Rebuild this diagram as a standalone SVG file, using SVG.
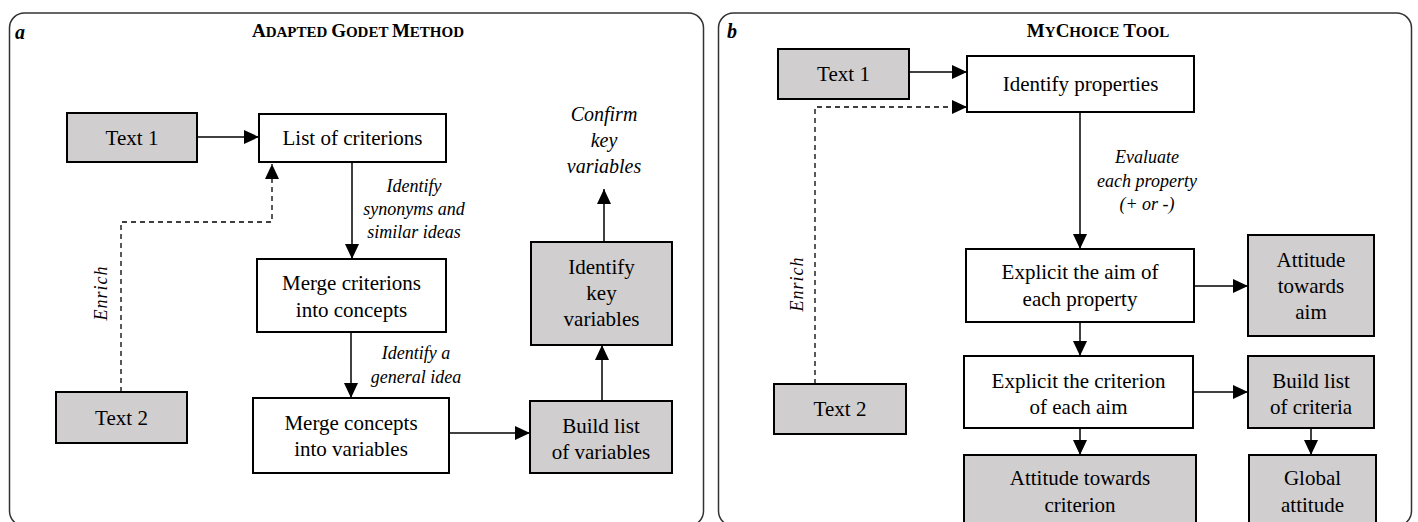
<svg xmlns="http://www.w3.org/2000/svg" width="1418" height="522" viewBox="0 0 1418 522">
<style>
.panel{fill:#fff;stroke:#333;stroke-width:1.5}
.w{fill:#fff;stroke:#000;stroke-width:2}
.g{fill:#d0cece;stroke:#000;stroke-width:2}
.e{stroke:#000;stroke-width:1.5;fill:none}
.d{stroke:#000;stroke-width:1.3;fill:none;stroke-dasharray:5,4}
.t{font-family:"Liberation Serif",serif;font-size:21px;fill:#000;text-anchor:middle}
.l{font-family:"Liberation Serif",serif;font-size:18px;font-style:italic;fill:#000;text-anchor:middle}
.c{font-family:"Liberation Serif",serif;font-size:20px;font-style:italic;fill:#000;text-anchor:middle}
.h{font-family:"Liberation Serif",serif;font-weight:bold;fill:#000;text-anchor:middle}
.p{font-family:"Liberation Serif",serif;font-weight:bold;font-style:italic;font-size:20px;fill:#000}
</style>
<defs>
<marker id="ah" markerUnits="userSpaceOnUse" markerWidth="15" markerHeight="14" refX="15" refY="7" orient="auto">
<path d="M0,0 L15,7 L0,14 z" fill="#000"/>
</marker>
</defs>
<g id="panel-a">
<rect class="panel" x="9.5" y="13" width="694" height="513" rx="15"/>
<text class="p" x="15" y="39">a</text>
<text class="h" x="358" y="37"><tspan font-size="19">A</tspan><tspan font-size="15">DAPTED </tspan><tspan font-size="19">G</tspan><tspan font-size="15">ODET </tspan><tspan font-size="19">M</tspan><tspan font-size="15">ETHOD</tspan></text>
</g>
<g id="panel-b">
<rect class="panel" x="718.5" y="13" width="693" height="513" rx="15"/>
<text class="p" x="727" y="38">b</text>
<text class="h" x="1098" y="37"><tspan font-size="19">M</tspan><tspan font-size="15">Y</tspan><tspan font-size="19">C</tspan><tspan font-size="15">HOICE </tspan><tspan font-size="19">T</tspan><tspan font-size="15">OOL</tspan></text>
</g>
<g id="connectors">
<line class="e" x1="197" y1="137" x2="259" y2="137" marker-end="url(#ah)"/>
<line class="e" x1="352" y1="162" x2="352" y2="259" marker-end="url(#ah)"/>
<line class="e" x1="351" y1="332" x2="351" y2="398" marker-end="url(#ah)"/>
<line class="e" x1="449" y1="433" x2="530" y2="433" marker-end="url(#ah)"/>
<line class="e" x1="602" y1="401" x2="602" y2="345" marker-end="url(#ah)"/>
<line class="e" x1="604" y1="242" x2="604" y2="189" marker-end="url(#ah)"/>
<path class="d" d="M121,392 V222 H272 V164" marker-end="url(#ah)"/>
<line class="e" x1="909" y1="72" x2="967" y2="72" marker-end="url(#ah)"/>
<path class="d" d="M815,384 V107 H967" marker-end="url(#ah)"/>
<line class="e" x1="1080" y1="112" x2="1080" y2="249" marker-end="url(#ah)"/>
<line class="e" x1="1194" y1="286" x2="1248" y2="286" marker-end="url(#ah)"/>
<line class="e" x1="1080" y1="322" x2="1080" y2="356" marker-end="url(#ah)"/>
<line class="e" x1="1193" y1="392" x2="1248" y2="392" marker-end="url(#ah)"/>
<line class="e" x1="1080" y1="428" x2="1080" y2="455" marker-end="url(#ah)"/>
<line class="e" x1="1311" y1="428" x2="1311" y2="455" marker-end="url(#ah)"/>
<text class="l" transform="translate(107,293) rotate(-90)" letter-spacing="1">Enrich</text>
<text class="l" x="414" y="192">Identify</text>
<text class="l" x="414" y="215">synonyms and</text>
<text class="l" x="414" y="238">similar ideas</text>
<text class="l" x="416" y="359">Identify a</text>
<text class="l" x="416" y="383">general idea</text>
<text class="l" transform="translate(803,284) rotate(-90)" letter-spacing="1">Enrich</text>
<text class="l" x="1147" y="163">Evaluate</text>
<text class="l" x="1147" y="187">each property</text>
<text class="l" x="1147" y="210">(+ or -)</text>
<text class="c" x="604" y="121">Confirm</text>
<text class="c" x="604" y="147">key</text>
<text class="c" x="604" y="173">variables</text>
</g>
<g id="a-text1"><rect class="g" x="67" y="113" width="130" height="49"/><text class="t" x="132" y="145">Text 1</text></g>
<g id="a-list"><rect class="w" x="259" y="114" width="187" height="48"/><text class="t" x="352.5" y="145">List of criterions</text></g>
<g id="a-merge-criterions"><rect class="w" x="257" y="259" width="189" height="73"/><text class="t" x="351.5" y="290">Merge criterions</text><text class="t" x="351.5" y="317">into concepts</text></g>
<g id="a-merge-concepts"><rect class="w" x="253" y="398" width="196" height="75"/><text class="t" x="351" y="430">Merge concepts</text><text class="t" x="351" y="456">into variables</text></g>
<g id="a-build"><rect class="g" x="530" y="401" width="142" height="72"/><text class="t" x="601" y="433">Build list</text><text class="t" x="601" y="459">of variables</text></g>
<g id="a-identify"><rect class="g" x="531" y="242" width="141" height="103"/><text class="t" x="601.5" y="274">Identify</text><text class="t" x="601.5" y="300">key</text><text class="t" x="601.5" y="326">variables</text></g>
<g id="a-text2"><rect class="g" x="56" y="392" width="131" height="51"/><text class="t" x="121.5" y="425">Text 2</text></g>
<g id="b-text1"><rect class="g" x="778" y="49" width="131" height="50"/><text class="t" x="843.5" y="81">Text 1</text></g>
<g id="b-identify"><rect class="w" x="967" y="56" width="227" height="56"/><text class="t" x="1080.5" y="91">Identify properties</text></g>
<g id="b-text2"><rect class="g" x="774" y="384" width="132" height="50"/><text class="t" x="840" y="416">Text 2</text></g>
<g id="b-aim"><rect class="w" x="966" y="249" width="228" height="73"/><text class="t" x="1080" y="279">Explicit the aim of</text><text class="t" x="1080" y="306">each property</text></g>
<g id="b-att-aim"><rect class="g" x="1248" y="235" width="126" height="101"/><text class="t" x="1311" y="267">Attitude</text><text class="t" x="1311" y="293">towards</text><text class="t" x="1311" y="319">aim</text></g>
<g id="b-criterion"><rect class="w" x="964" y="356" width="229" height="72"/><text class="t" x="1078.5" y="388">Explicit the criterion</text><text class="t" x="1078.5" y="414">of each aim</text></g>
<g id="b-build"><rect class="g" x="1248" y="356" width="126" height="72"/><text class="t" x="1311" y="388">Build list</text><text class="t" x="1311" y="414">of criteria</text></g>
<g id="b-att-crit"><rect class="g" x="964" y="455" width="232" height="75"/><text class="t" x="1080" y="485">Attitude towards</text><text class="t" x="1080" y="512">criterion</text></g>
<g id="b-global"><rect class="g" x="1249" y="455" width="127" height="75"/><text class="t" x="1312.5" y="485">Global</text><text class="t" x="1312.5" y="512">attitude</text></g>
</svg>
